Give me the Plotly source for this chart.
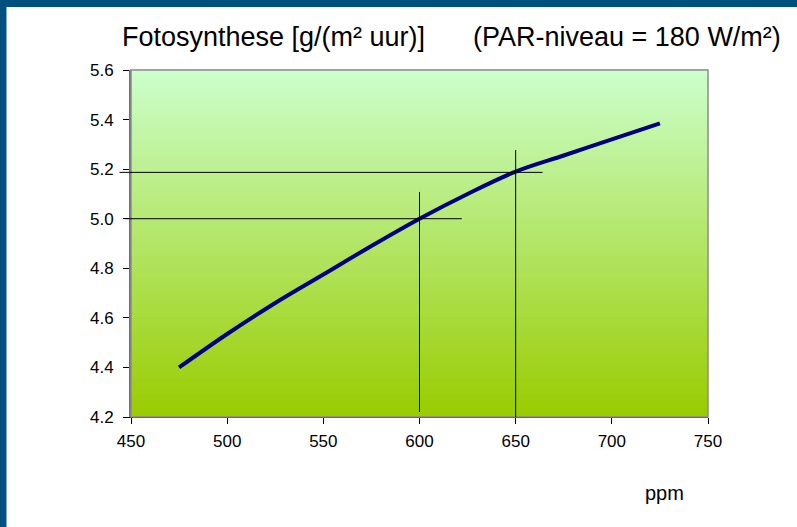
import plotly.graph_objects as go

# data
ppm = [475, 500, 525, 550, 575, 600, 625, 650, 675, 700, 725]
fotosynthese = [4.40, 4.535, 4.66, 4.775, 4.89, 5.00, 5.10, 5.19, 5.255, 5.32, 5.385]

x_ticks = [450, 500, 550, 600, 650, 700, 750]
y_ticks = [4.2, 4.4, 4.6, 4.8, 5.0, 5.2, 5.4, 5.6]
y_tick_labels = ["4.2", "4.4", "4.6", "4.8", "5.0", "5.2", "5.4", "5.6"]

# guide lines (reading aids)
h_guide_y = [5.0, 5.187]
h_guide_x_end = [622, 664]
h_guide_overhang = [0.011, 0.020]   # left overhang beyond the axis (fraction of axis width)
v_guide_x = [600, 650]
v_guide_y_start = [4.22, 4.2]
v_guide_y_end = [5.108, 5.277]

fig = go.Figure()

fig.add_trace(go.Scatter(
    x=ppm, y=fotosynthese, mode="lines",
    line=dict(color="#000080", width=4, shape="spline"),
    hoverinfo="skip", showlegend=False,
))

shapes = []
# vertical gradient background
top = (204, 255, 204)
bot = (153, 204, 0)
n = 80
for i in range(n):
    t = (i + 0.5) / n
    c = tuple(int(round(bot[k] + (top[k] - bot[k]) * t)) for k in range(3))
    shapes.append(dict(type="rect", xref="x domain", yref="y domain",
                       x0=0, x1=1, y0=i / n, y1=(i + 1) / n + 0.002,
                       fillcolor="rgb(%d,%d,%d)" % c, line=dict(width=0),
                       layer="below"))
# plot-area border
shapes.append(dict(type="rect", xref="x domain", yref="y domain",
                   x0=0, x1=1, y0=0, y1=1,
                   line=dict(color="#8c8c8c", width=1.5), layer="above"))
for yv, xb, ov in zip(h_guide_y, h_guide_x_end, h_guide_overhang):
    shapes.append(dict(type="line", xref="x", yref="y", x0=450, x1=xb, y0=yv, y1=yv,
                       line=dict(color="#000000", width=1), layer="above"))
    shapes.append(dict(type="line", xref="x domain", yref="y", x0=-ov, x1=0, y0=yv, y1=yv,
                       line=dict(color="#000000", width=1), layer="above"))
for xv, ya, yb in zip(v_guide_x, v_guide_y_start, v_guide_y_end):
    shapes.append(dict(type="line", xref="x", yref="y", x0=xv, x1=xv, y0=ya, y1=yb,
                       line=dict(color="#000000", width=1), layer="above"))
# dark blue frame (top and left)
shapes.append(dict(type="rect", xref="paper", yref="paper",
                   x0=-0.3, x1=1.2, y0=1.1816, y1=1.25,
                   fillcolor="#00507f", line=dict(width=0)))
shapes.append(dict(type="rect", xref="paper", yref="paper",
                   x0=-0.3, x1=-0.2158, y0=-0.35, y1=1.25,
                   fillcolor="#00507f", line=dict(width=0)))

fig.update_layout(
    width=797, height=527,
    margin=dict(l=131, r=89, t=70, b=110),
    paper_bgcolor="white", plot_bgcolor="rgb(180,230,110)",
    font=dict(family="Liberation Sans, Arial, sans-serif", size=17, color="black"),
    shapes=shapes,
    showlegend=False,
    annotations=[
        dict(text="Fotosynthese [g/(m² uur)]", xref="paper", yref="paper",
             x=-0.019, y=1.095, xanchor="left", yanchor="middle", showarrow=False,
             font=dict(size=27)),
        dict(text="(PAR-niveau = 180 W/m²)", xref="paper", yref="paper",
             x=1.13, y=1.095, xanchor="right", yanchor="middle", showarrow=False,
             font=dict(size=27)),
        dict(text="ppm", xref="paper", yref="paper",
             x=0.925, y=-0.219, xanchor="center", yanchor="middle", showarrow=False,
             font=dict(size=20)),
    ],
)

fig.update_xaxes(
    range=[450, 750], tickvals=x_ticks, ticktext=[str(v) for v in x_ticks],
    showgrid=False, zeroline=False,
    showline=True, linecolor="black", linewidth=1,
    ticks="outside", ticklen=6, tickcolor="black", tickwidth=1,
    tickfont=dict(size=17), ticklabelstandoff=3,
)
fig.update_yaxes(
    range=[4.2, 5.6], tickvals=y_ticks, ticktext=y_tick_labels,
    showgrid=False, zeroline=False,
    showline=True, linecolor="#707070", linewidth=2,
    ticks="outside", ticklen=6, tickcolor="black", tickwidth=1,
    tickfont=dict(size=17), ticklabelstandoff=6,
)

fig.write_html("out.html", config={"displayModeBar": False},
               post_script="document.body.style.margin='0px';")
